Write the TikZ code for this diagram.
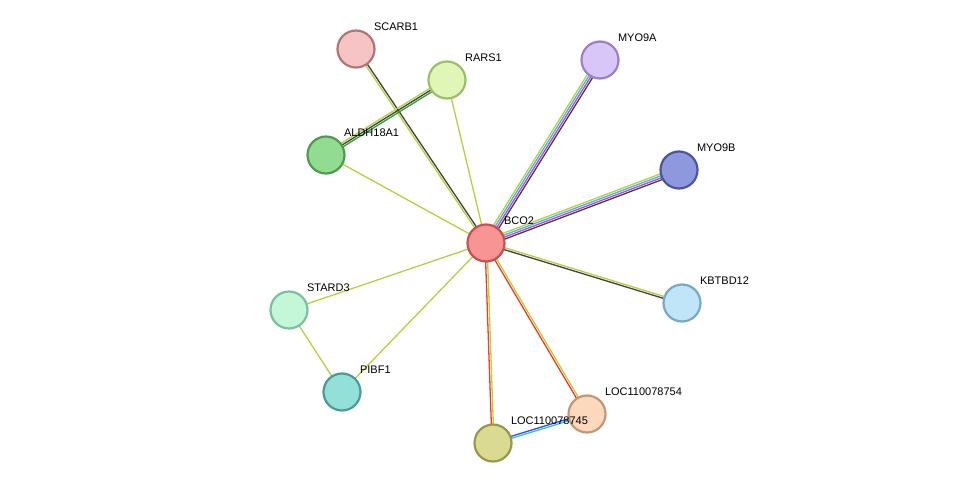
\documentclass[tikz,border=0pt]{standalone}
\usepackage{fontspec}
\setmainfont{Liberation Sans}
\usetikzlibrary{calc}
\pgfdeclarelayer{background}
\pgfsetlayers{background,main}

\definecolor{tlime}{HTML}{B4D23C}
\definecolor{tred}{HTML}{F03A2A}
\definecolor{tmag}{HTML}{D040D0}
\definecolor{tcyan}{HTML}{40B8E8}
\definecolor{tblue}{HTML}{3050E8}
\definecolor{tgreen}{HTML}{30A030}
\definecolor{tblack}{HTML}{404040}

\begin{document}
\begin{tikzpicture}[x=1pt,y=-1pt]
	\tikzstyle{prot}=[circle,minimum size=37pt,inner sep=0pt,line width=2.2pt]
	\tikzstyle{lbl}=[font=\fontsize{11}{13}\selectfont,inner sep=0pt,anchor=south west]
	\tikzstyle{edge}=[line width=1.3pt]

	\useasboundingbox (0,0) rectangle (975,489);

	\node[prot,fill={rgb,255:red,248;green,148;blue,148},draw={rgb,255:red,200;green,80;blue,80}] (bco) at (486,243) {};
	\node[lbl] at ([xshift=4pt,yshift=4pt]bco.north east) {BCO2};
	\node[prot,fill={rgb,255:red,246;green,196;blue,196},draw={rgb,255:red,176;green,118;blue,118}] (scarb) at (356,49) {};
	\node[lbl] at ([xshift=4pt,yshift=4pt]scarb.north east) {SCARB1};
	\node[prot,fill={rgb,255:red,224;green,246;blue,182},draw={rgb,255:red,156;green,190;blue,104}] (rars) at (447,80) {};
	\node[lbl] at ([xshift=4pt,yshift=4pt]rars.north east) {RARS1};
	\node[prot,fill={rgb,255:red,216;green,198;blue,248},draw={rgb,255:red,154;green,128;blue,200}] (myoa) at (600,60) {};
	\node[lbl] at ([xshift=4pt,yshift=4pt]myoa.north east) {MYO9A};
	\node[prot,fill={rgb,255:red,142;green,152;blue,220},draw={rgb,255:red,76;green,86;blue,160}] (myob) at (679,170) {};
	\node[lbl] at ([xshift=4pt,yshift=4pt]myob.north east) {MYO9B};
	\node[prot,fill={rgb,255:red,146;green,220;blue,146},draw={rgb,255:red,78;green,154;blue,78}] (aldh) at (326,155) {};
	\node[lbl] at ([xshift=4pt,yshift=4pt]aldh.north east) {ALDH18A1};
	\node[prot,fill={rgb,255:red,192;green,228;blue,248},draw={rgb,255:red,120;green,168;blue,200}] (kbtbd) at (682,303) {};
	\node[lbl] at ([xshift=4pt,yshift=4pt]kbtbd.north east) {KBTBD12};
	\node[prot,fill={rgb,255:red,196;green,246;blue,216},draw={rgb,255:red,122;green,192;blue,160}] (stard) at (289,310) {};
	\node[lbl] at ([xshift=4pt,yshift=4pt]stard.north east) {STARD3};
	\node[prot,fill={rgb,255:red,146;green,224;blue,216},draw={rgb,255:red,74;green,154;blue,152}] (pibf) at (342,392) {};
	\node[lbl] at ([xshift=4pt,yshift=4pt]pibf.north east) {PIBF1};
	\node[prot,fill={rgb,255:red,252;green,216;blue,188},draw={rgb,255:red,192;green,152;blue,120}] (loca) at (587,414) {};
	\node[lbl] at ([xshift=4pt,yshift=4pt]loca.north east) {LOC110078754};
	\node[prot,fill={rgb,255:red,218;green,218;blue,146},draw={rgb,255:red,152;green,152;blue,72}] (locb) at (493,443) {};
	\node[lbl] at ([xshift=4pt,yshift=4pt]locb.north east) {LOC110078745};

	\begin{pgfonlayer}{background}
		\foreach \a/\b/\cols in {
			bco/scarb/{tblack/-1,tlime/1},
			bco/rars/{tlime/0},
			bco/aldh/{tlime/0},
			rars/aldh/{tlime/-2,tblack/0,tgreen/2},
			bco/myoa/{tblack/-3,tmag/-1,tcyan/1,tlime/3},
			bco/myob/{tblack/-3,tmag/-1,tcyan/1,tlime/3},
			bco/kbtbd/{tblack/-1,tlime/1},
			bco/stard/{tlime/0},
			bco/pibf/{tlime/0},
			stard/pibf/{tlime/0},
			bco/loca/{tred/-1,tlime/1},
			bco/locb/{tred/-1,tlime/1},
			loca/locb/{tblue/-1,tcyan/1}}
		{
			\foreach \c/\o in \cols
				\draw[edge,\c] ($(\a)!\o pt!90:(\b)$) -- ($(\b)!\o pt!-90:(\a)$);
		}
	\end{pgfonlayer}
\end{tikzpicture}
\end{document}
